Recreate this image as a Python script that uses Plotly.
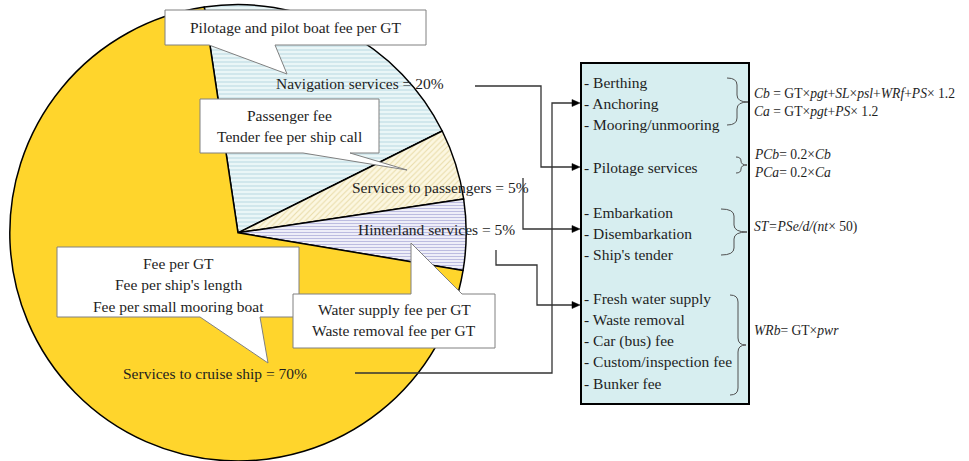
import plotly.graph_objects as go

W, H = 969, 461

# ---------------- data ----------------
slice_labels = ["Navigation services", "Services to passengers",
                "Hinterland services", "Services to cruise ship"]
slice_values = [20, 5, 5, 70]

callout_pilot = ["Pilotage and pilot boat fee per GT"]
callout_passenger = ["Passenger fee", "Tender fee per ship call"]
callout_cruise = ["Fee per GT", "Fee per ship's length", "Fee per small mooring boat"]
callout_hinter = ["Water supply fee per GT", "Waste removal fee per GT"]

box_groups = [
    ["Berthing", "Anchoring", "Mooring/unmooring"],
    ["Pilotage services"],
    ["Embarkation", "Disembarkation", "Ship's tender"],
    ["Fresh water supply", "Waste removal", "Car (bus) fee",
     "Custom/inspection fee", "Bunker fee"],
]

formulas = [
    ["<i>Cb</i> = GT×<i>pgt</i>+<i>SL</i>×<i>psl</i>+<i>WRf</i>+<i>PS</i>× 1.2",
     "<i>Ca</i> = GT×<i>pgt</i>+<i>PS</i>× 1.2"],
    ["<i>PCb</i>= 0.2×<i>Cb</i>", "<i>PCa</i>= 0.2×<i>Ca</i>"],
    ["<i>ST=PSe/d/(nt</i>× 50)"],
    ["<i>WRb</i>= GT×<i>pwr</i>"],
]

# ---------------- styles / layout positions ----------------
FONT = "Liberation Serif"
TXT = "#1e1e1e"
slice_colors = ["#eaf6f7", "#fcf7e1", "#f4f4fb", "#ffd52c"]
pattern_shapes = ["-", "/", "-", ""]
pattern_fg = ["#b9d9e2", "#e9dca8", "#bcbce0", "#ffd52c"]

fig = go.Figure()

fig.add_trace(go.Pie(
    labels=slice_labels, values=slice_values, sort=False,
    direction="clockwise", rotation=-8.5,
    textinfo="none", hoverinfo="label+percent",
    domain=dict(x=[9 / W, 467 / W], y=[0.0, 0.99]),
    marker=dict(colors=slice_colors,
                line=dict(color="#000000", width=1.5),
                pattern=dict(shape=pattern_shapes, fgcolor=pattern_fg,
                             bgcolor=slice_colors, size=[4, 4, 3, 4],
                             solidity=[0.25, 0.25, 0.4, 0.25])),
    showlegend=False,
))

shapes = []
annots = []


def text(x, y, s, size=15.5, anchor="left"):
    annots.append(dict(x=x, y=y, xref="x", yref="y", text=s, showarrow=False,
                       xanchor=anchor, yanchor="middle",
                       font=dict(family=FONT, size=size, color=TXT)))


# pie labels
label_pos = [(274, 83), (350, 187), (356, 229), (121, 373)]
for (x, y), lab, v in zip(label_pos, slice_labels, slice_values):
    text(x, y, f"{lab} = {v}%")

# callouts (box + pointer)
callouts = [
    (callout_pilot, (165, 10, 426, 45), [(426, 45), (275, 45), (287, 74), (209, 45)], [27]),
    (callout_passenger, (200, 99, 379, 153), [(379, 153), (350, 153), (407, 170), (303, 153)], [115, 136]),
    (callout_cruise, (57, 247, 299, 317), [(299, 317), (260, 317), (268, 363), (200, 317)], [263, 284, 306]),
]
for lines, (x0, y0, x1, y1), ptr, ys in callouts:
    pts = [(x0, y0), (x1, y0)] + ptr + [(x0, y1)]
    path = "M " + " L ".join(f"{px},{py}" for px, py in pts) + " Z"
    shapes.append(dict(type="path", path=path, xref="x", yref="y",
                       fillcolor="white", line=dict(color="#808080", width=1)))
    for s, yy in zip(lines, ys):
        text((x0 + x1) / 2, yy, s, anchor="center")

# hinterland callout (pointer on top edge)
hx0, hy0, hx1, hy1 = 293, 294, 495, 348
pts = [(hx0, hy0), (411, hy0), (411, 243), (462, hy0), (hx1, hy0), (hx1, hy1), (hx0, hy1)]
shapes.append(dict(type="path", xref="x", yref="y",
                   path="M " + " L ".join(f"{px},{py}" for px, py in pts) + " Z",
                   fillcolor="white", line=dict(color="#808080", width=1)))
for s, yy in zip(callout_hinter, [309, 330]):
    text((hx0 + hx1) / 2, yy, s, anchor="center")

# services box
shapes.append(dict(type="rect", xref="x", yref="y", x0=581, y0=63, x1=749, y1=404,
                   fillcolor="#d7eef0", line=dict(color="#000000", width=2)))
group_start = [82, 167, 212, 298]
step = 21.3
for g, y0 in zip(box_groups, group_start):
    for i, s in enumerate(g):
        text(582, y0 + i * step, "- " + s, size=15.5)

# braces
braces = [(727, 737, 748, 78, 125, 102), (736, 741, 747, 157, 173, 165),
          (721, 734, 747, 209, 255, 232), (730, 738, 746, 295, 395, 345)]
for x0, xm, xt, y0, y1, ym in braces:
    d = min(7, (y1 - y0) / 4)
    path = (f"M {x0},{y0} Q {xm},{y0} {xm},{y0 + d} L {xm},{ym - d} "
            f"Q {xm},{ym} {xt},{ym} Q {xm},{ym} {xm},{ym + d} L {xm},{y1 - d} "
            f"Q {xm},{y1} {x0},{y1}")
    shapes.append(dict(type="path", xref="x", yref="y", path=path,
                       line=dict(color="#505050", width=1)))

# formulas
formula_y = [[93, 111], [154, 172], [227], [330]]
for fl, ys in zip(formulas, formula_y):
    for s, yy in zip(fl, ys):
        text(752, yy, s, size=13.6)

# connectors with arrowheads
connectors = [
    [(475, 86), (541, 86), (541, 167), (574, 167)],
    [(523, 178), (523, 229), (574, 229)],
    [(496, 250), (496, 265), (537, 265), (537, 305), (574, 305)],
    [(355, 373), (552, 373), (552, 103), (574, 103)],
]
for pts in connectors:
    path = "M " + " L ".join(f"{px},{py}" for px, py in pts)
    shapes.append(dict(type="path", xref="x", yref="y", path=path,
                       line=dict(color="#333333", width=1.3)))
    tx, ty = pts[-1][0] + 6, pts[-1][1]
    shapes.append(dict(type="path", xref="x", yref="y",
                       path=f"M {tx},{ty} L {tx - 8},{ty - 3.5} L {tx - 8},{ty + 3.5} Z",
                       fillcolor="#000000", line=dict(color="#000000", width=0.5)))

fig.update_layout(
    width=W, height=H, margin=dict(l=0, r=0, t=0, b=0),
    paper_bgcolor="white", plot_bgcolor="rgba(0,0,0,0)",
    xaxis=dict(range=[0, W], visible=False, fixedrange=True),
    yaxis=dict(range=[H, 0], visible=False, fixedrange=True),
    shapes=shapes, annotations=annots, showlegend=False,
)

fig.write_html("out.html", config={"displayModeBar": False},
               post_script="document.body.style.margin='0px';document.body.style.overflow='hidden';")
